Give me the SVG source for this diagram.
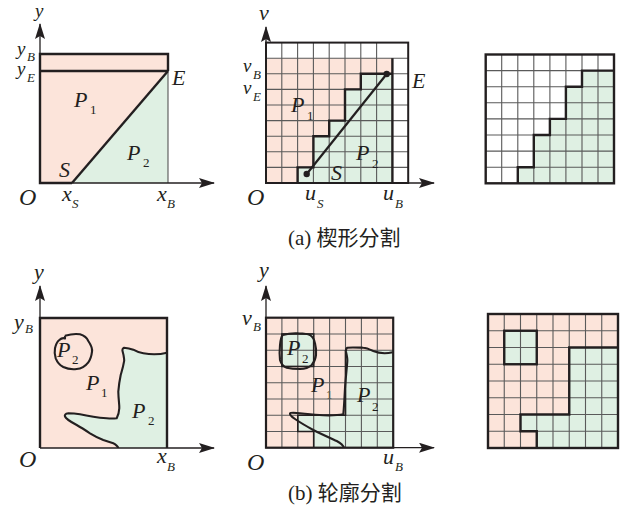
<svg xmlns="http://www.w3.org/2000/svg" width="626" height="506" viewBox="0 0 626 506">
<defs>
<style>
.pk{fill:#FCE4DA}
.gn{fill:#DFF0E3}
.wh{fill:#FFFFFF}
.thick{stroke:#231F20;stroke-width:2.4;fill:none;stroke-linejoin:miter}
.thin{stroke:#555;stroke-width:1.1;fill:none}
.grid{stroke:#5a5a5a;stroke-width:1.1;fill:none}
.curve{stroke:#231F20;stroke-width:2.1;fill:none;stroke-linejoin:round}
.ax{stroke:#231F20;stroke-width:1.3;fill:none;marker-end:url(#arr)}
.t{font-family:"Liberation Serif",serif;font-style:italic;font-size:22px;fill:#231F20}
.o{font-size:24px}
.m{font-size:19px}
.s{font-family:"Liberation Serif",serif;font-style:italic;font-size:13px;fill:#231F20}
.u{font-style:normal}
.cap{font-family:"Liberation Serif","Noto Sans CJK SC",serif;font-size:21px;fill:#231F20}
</style>
<marker id="arr" markerUnits="userSpaceOnUse" markerWidth="16" markerHeight="10" refX="15" refY="5" orient="auto">
<path d="M0,0 L16,5 L0,10 L3,5 Z" fill="#231F20"/>
</marker>
</defs>
<rect width="626" height="506" fill="#FFFFFF"/>

<!-- (a) left: continuous wedge -->
<g id="a-left">
<polygon class="pk" points="40,54 168,54 168,71 72,183 40,183"/>
<polygon class="gn" points="72,183 168,71 168,183"/>
<line class="thin" x1="168" y1="71" x2="168" y2="183"/>
<polyline class="thick" points="72,183 40,183 40,54 168,54 168,71"/>
<line class="thick" x1="40" y1="71" x2="168" y2="71"/>
<line class="thick" x1="72" y1="183" x2="168" y2="71"/>
<text class="t m" x="35" y="17">y</text>
<text class="t m" x="17" y="55">y</text><text class="s" x="27" y="61">B</text>
<text class="t m" x="17" y="75">y</text><text class="s" x="27" y="82">E</text>
<text class="t" x="172" y="85">E</text>
<text class="t" x="74" y="107">P</text><text class="s u" x="90" y="114">1</text>
<text class="t" x="127" y="160">P</text><text class="s u" x="143" y="167">2</text>
<text class="t" x="59" y="177">S</text>
<text class="t o" x="19" y="205">O</text>
<text class="t" x="62" y="201">x</text><text class="s" x="72" y="208">S</text>
<text class="t" x="157" y="201">x</text><text class="s" x="167" y="208">B</text>
</g>

<!-- (a) middle: rasterised wedge -->
<g id="a-middle">
<rect class="wh" x="266" y="42.6" width="142.2" height="140.4"/>
<rect class="pk" x="266" y="58.2" width="126.4" height="124.8"/>
<polygon class="gn" points="297.6,183 297.6,167.4 313.4,167.4 313.4,136.2 329.2,136.2 329.2,120.6 345,120.6 345,89.4 360.8,89.4 360.8,73.8 392.4,73.8 392.4,183"/>
<path class="grid" d="M281.8,42.6V183M297.6,42.6V183M313.4,42.6V183M329.2,42.6V183M345,42.6V183M360.8,42.6V183M376.6,42.6V183M266,167.4H408.2M266,151.8H408.2M266,136.2H408.2M266,120.6H408.2M266,105H408.2M266,89.4H408.2M266,73.8H408.2M266,58.2H408.2"/>
<rect x="266" y="42.6" width="142.2" height="140.4" fill="none" stroke="#231F20" stroke-width="2"/>
<line class="thick" x1="392.4" y1="58.2" x2="392.4" y2="183"/>
<polyline class="thick" points="297.6,183 297.6,167.4 313.4,167.4 313.4,136.2 329.2,136.2 329.2,120.6 345,120.6 345,89.4 360.8,89.4 360.8,73.8 392.4,73.8"/>
<line x1="306.7" y1="174" x2="386.7" y2="74" stroke="#231F20" stroke-width="2.2"/>
<circle cx="306.7" cy="174" r="3.2" fill="#231F20"/>
<circle cx="386.7" cy="74" r="3.2" fill="#231F20"/>
<text class="t" x="259" y="20">v</text>
<text class="t m" x="243" y="72">v</text><text class="s" x="253" y="79">B</text>
<text class="t m" x="243" y="94">v</text><text class="s" x="253" y="101">E</text>
<text class="t" x="412" y="88">E</text>
<text class="t" x="291" y="112">P</text><text class="s u" x="307" y="120">1</text>
<text class="t" x="356" y="160">P</text><text class="s u" x="372" y="168">2</text>
<text class="t" x="331" y="180">S</text>
<text class="t o" x="247" y="205">O</text>
<text class="t" x="305" y="200">u</text><text class="s" x="317" y="208">S</text>
<text class="t" x="383" y="200">u</text><text class="s" x="395" y="208">B</text>
</g>

<!-- (a) right: result grid -->
<g id="a-right">
<rect class="wh" x="485.7" y="54.5" width="128.3" height="128.8"/>
<polygon class="gn" points="517.8,183.3 517.8,167.2 533.8,167.2 533.8,135 549.9,135 549.9,118.9 565.9,118.9 565.9,86.7 582,86.7 582,70.6 614,70.6 614,183.3"/>
<path class="grid" d="M501.7,54.5V183.3M517.8,54.5V183.3M533.8,54.5V183.3M549.9,54.5V183.3M565.9,54.5V183.3M582,54.5V183.3M598,54.5V183.3M485.7,167.2H614M485.7,151.1H614M485.7,135H614M485.7,118.9H614M485.7,102.8H614M485.7,86.7H614M485.7,70.6H614"/>
<polyline class="thick" points="517.8,183.3 517.8,167.2 533.8,167.2 533.8,135 549.9,135 549.9,118.9 565.9,118.9 565.9,86.7 582,86.7 582,70.6 614,70.6"/>
<rect x="485.7" y="54.5" width="128.3" height="128.8" fill="none" stroke="#231F20" stroke-width="2.4"/>
</g>

<!-- (b) left: continuous contour -->
<g id="b-left">
<rect class="pk" x="40" y="318" width="127" height="130"/>
<path class="gn" d="M167,352.7 C160,354.5 150,354.5 143.3,353.3 C138,352.5 133.3,349.7 133.3,349.7 C129,348 124,347.7 124,347.7 C121.5,348.5 122.7,351.7 122.7,351.7 C124,356 124.5,361.7 124,361.7 C123,368 121.5,372 120.7,375 C119,383 118.3,391.7 118.3,391.7 C118.5,400 119.5,405 119.3,408.3 C119,414 116.7,418.3 116.7,418.3 C112,418.8 106.7,418.3 106.7,418.3 C100,418 93.3,416.7 93.3,416.7 C86,415.5 80,414.3 80,414.3 C74,413.5 68.3,413.3 68.3,413.3 C65,413.5 64.5,415.5 65,416.5 C66,419 70,421.5 76.7,425 C82,428 90,433.3 90,433.3 C96,437 103.3,440 103.3,440 C109,442 113.3,443.3 113.3,443.3 C116.5,444.5 118.3,447.7 118.3,448 L167,448 Z"/>
<path class="curve" d="M167,352.7 C160,354.5 150,354.5 143.3,353.3 C138,352.5 133.3,349.7 133.3,349.7 C129,348 124,347.7 124,347.7 C121.5,348.5 122.7,351.7 122.7,351.7 C124,356 124.5,361.7 124,361.7 C123,368 121.5,372 120.7,375 C119,383 118.3,391.7 118.3,391.7 C118.5,400 119.5,405 119.3,408.3 C119,414 116.7,418.3 116.7,418.3 C112,418.8 106.7,418.3 106.7,418.3 C100,418 93.3,416.7 93.3,416.7 C86,415.5 80,414.3 80,414.3 C74,413.5 68.3,413.3 68.3,413.3 C65,413.5 64.5,415.5 65,416.5 C66,419 70,421.5 76.7,425 C82,428 90,433.3 90,433.3 C96,437 103.3,440 103.3,440 C109,442 113.3,443.3 113.3,443.3 C116.5,444.5 118.3,447.7 118.3,448"/>
<path class="curve" d="M65,335.7 C71,334 76,333.6 80,334.3 C84,335.5 87,338 88.3,341 C91,345 92.5,349 92,351.7 C91.5,356 90.5,359.5 88.3,362.3 C85,366.5 81,368.7 76.7,369 C72,369.5 67,368.8 63.3,367 C59.5,365 57,361.5 55.7,358.3 C54.5,355 54.5,351 55,348.3 C55.8,344.5 57.5,341.5 59.3,340 C61.5,338 63,337.5 65,338.5 L65,335.7"/>
<polyline class="thick" points="40,448 40,318 167,318 167,448"/>
<text class="t" x="34" y="279">y</text>
<text class="t" x="14" y="329">y</text><text class="s" x="25" y="333">B</text>
<text class="t" x="57" y="357">P</text><text class="s u" x="72" y="364">2</text>
<text class="t" x="86" y="390">P</text><text class="s u" x="101" y="397">1</text>
<text class="t" x="132" y="418">P</text><text class="s u" x="148" y="425">2</text>
<text class="t o" x="19" y="467">O</text>
<text class="t" x="157" y="463">x</text><text class="s" x="167" y="471">B</text>
</g>

<!-- (b) middle: rasterised contour -->
<g id="b-middle">
<rect class="pk" x="266" y="317.7" width="127.2" height="130"/>
<rect class="gn" x="281.9" y="333.95" width="31.8" height="32.5"/>
<polygon class="gn" points="345.5,350.2 393.2,350.2 393.2,447.7 313.7,447.7 313.7,431.45 297.8,431.45 297.8,415.2 345.5,415.2"/>
<text class="s u" x="326" y="399">1</text>
<path class="grid" d="M281.9,317.7V447.7M297.8,317.7V447.7M313.7,317.7V447.7M329.6,317.7V447.7M345.5,317.7V447.7M361.4,317.7V447.7M377.3,317.7V447.7M266,333.95H393.2M266,350.2H393.2M266,366.45H393.2M266,382.7H393.2M266,398.95H393.2M266,415.2H393.2M266,431.45H393.2"/>
<rect x="281.9" y="333.95" width="31.8" height="32.5" fill="none" stroke="#231F20" stroke-width="1.6"/>
<polyline fill="none" stroke="#231F20" stroke-width="1.6" points="345.5,350.2 345.5,415.2 297.8,415.2 297.8,431.45 313.7,431.45 313.7,447.7"/>
<path class="curve" d="M392.7,352.3 C385,354 378,353 373.3,351 C369,349 366,347.7 363.3,347.7 C357,347.5 351,347.2 347.3,347.7 C345.5,348.5 346,351.7 346,351.7 C347,356 347.5,360 347.3,361.7 C346.5,372 345.5,380 345,388.3 C344.5,398 344,408 343.3,414.3 C337,415.6 330,415.5 323.3,415.3 C312,414.5 303,413.5 296.7,413 C293,412.7 290.5,412.5 290,413.3 C289.5,415 292,417 295,419 C300,422.5 307,426.5 313.3,430 C320,433.5 329,437.5 336.7,441 C340,442.8 343,445 344,447.7"/>
<path class="curve" d="M282.7,335 C288,333.5 294,333 298.3,333.3 C303,333.5 307.5,333.8 310,335 C313,337 314.5,340 315,343.3 C316,347 316.3,351 316,355 C315.5,359 314,362.5 311.7,365 C308.5,368 304,369 300,369 C295,369 290,368.5 286.7,367.7 C283,366.5 281,363.5 280,360 C279.5,356 279.5,350 280,345 C280.5,340 281,337 282.7,335"/>
<rect x="266" y="317.7" width="127.2" height="130" fill="none" stroke="#231F20" stroke-width="2.2"/>
<text class="t" x="259" y="277">y</text>
<text class="t" x="242" y="325">v</text><text class="s" x="253" y="331">B</text>
<text class="t" x="287" y="355">P</text><text class="s u" x="302" y="363">2</text>
<text class="t" x="311" y="392">P</text>
<text class="t" x="357" y="402">P</text><text class="s u" x="372" y="411">2</text>
<text class="t o" x="247" y="470">O</text>
<text class="t" x="383" y="464">u</text><text class="s" x="395" y="471">B</text>
</g>

<!-- (b) right: result grid -->
<g id="b-right">
<rect class="pk" x="488" y="314" width="130" height="134"/>
<rect class="gn" x="504.25" y="330.75" width="32.5" height="33.5"/>
<polygon class="gn" points="569.25,347.5 618,347.5 618,448 536.75,448 536.75,431.25 520.5,431.25 520.5,414.5 569.25,414.5"/>
<path class="grid" d="M504.25,314V448M520.5,314V448M536.75,314V448M553,314V448M569.25,314V448M585.5,314V448M601.75,314V448M488,330.75H618M488,347.5H618M488,364.25H618M488,381H618M488,397.75H618M488,414.5H618M488,431.25H618"/>
<rect class="thick" x="504.25" y="330.75" width="32.5" height="33.5"/>
<polyline class="thick" points="618,347.5 569.25,347.5 569.25,414.5 520.5,414.5 520.5,431.25 536.75,431.25 536.75,448"/>
<rect x="488" y="314" width="130" height="134" fill="none" stroke="#231F20" stroke-width="2.4"/>
</g>

<!-- axes -->
<g id="connectors">
<line class="ax" x1="40" y1="183" x2="40" y2="24"/>
<line class="ax" x1="40" y1="183" x2="214" y2="183"/>
<line class="ax" x1="266" y1="183" x2="266" y2="27"/>
<line class="ax" x1="266" y1="183" x2="434" y2="183"/>
<line class="ax" x1="40" y1="448" x2="40" y2="286"/>
<line class="ax" x1="40" y1="448" x2="214" y2="448"/>
<line class="ax" x1="266" y1="447.7" x2="266" y2="286"/>
<line class="ax" x1="266" y1="447.7" x2="434" y2="447.7"/>
</g>

<g id="captions">
<text class="cap" x="288" y="245">(a) 楔形分割</text>
<text class="cap" x="288" y="500">(b) 轮廓分割</text>
</g>
</svg>
